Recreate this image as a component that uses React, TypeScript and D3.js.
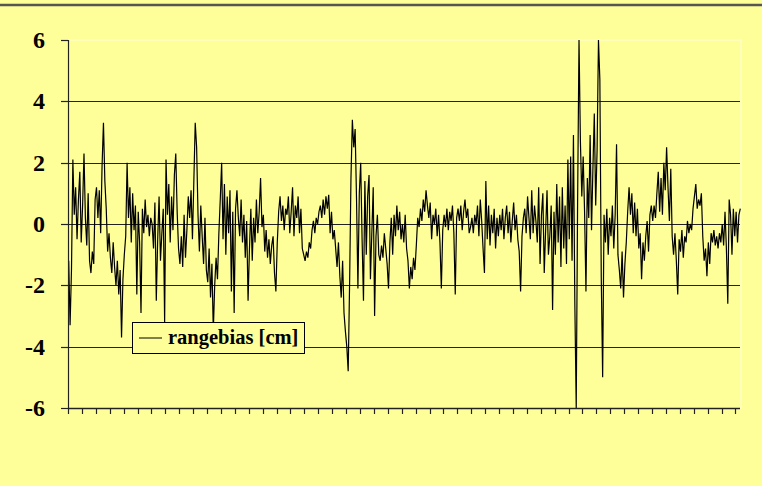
import React from "react";
import * as d3 from "d3";

const seriesName = "rangebias [cm]";
const yTickValues = [-6, -4, -2, 0, 2, 4, 6];
const gridValues = [-4, -2, 0, 2, 4];
const categoryTickStep = 10;

// rangebias values, read group by group (10 samples per category tick)
const rangebias: number[] = [
  -1.2, -3.3, -1.5, 2.1, 0.3, 1.2, -0.5, 0.8, 1.7, -0.6,
  0.6, 2.3, 0.2, -0.7, 1.0, -1.2, -1.6, -0.9, -1.3, 0.8,
  1.2, 0.2, 1.1, -0.3, 1.9, 3.3, 1.4, 0.5, -0.9, -0.3,
  -1.1, -1.6, -0.6, -1.4, -2.0, -1.2, -2.3, -1.5, -3.7, -1.8,
  -1.0, -0.4, 2.0, 0.2, 1.2, -0.6, 1.0, -0.2, 0.6, -2.3,
  0.4, -0.6, -2.9, 0.5, -0.3, 0.8, -0.1, 0.3, -0.4, 0.2,
  0.0, -0.8, 0.7, -2.5, -0.5, 0.9, -1.2, -0.3, 0.5, -3.2,
  2.1, 0.3, 1.3, -0.6, 0.9, -0.2, 1.6, 2.3, 0.4, -0.8,
  -1.3, -0.4, -1.4, 0.3, -1.1, -0.2, 0.9, 0.2, 1.1, -0.5,
  1.4, 3.3, 2.5, 0.3, -0.9, 0.6, -0.4, -1.3, 0.2, -1.5,
  -1.9, -0.8, -2.4, -1.3, -3.5, -2.0, -1.1, -1.8, -0.3, 0.8,
  2.0, -0.5, 1.3, -1.0, 0.9, -0.3, 1.1, -2.2, 0.4, -2.9,
  0.5, 1.1, 0.2, -0.4, 0.8, -0.6, 0.3, -1.1, 0.1, -2.5,
  -0.8, 0.5, -1.2, 0.2, -0.6, 0.8, -0.3, 0.4, 1.5, -0.1,
  0.3, -0.9, -0.2, -1.1, -0.5, -1.3, -0.7, -0.4, -1.6, -2.2,
  -0.6, 0.4, 0.9, 0.1, 0.6, -0.2, 0.5, 0.3, 0.9, -0.3,
  0.4, 1.2, -0.4, 0.6, 0.2, 0.9, -0.3, 0.5, -0.8, -1.0,
  -1.2, -0.9, -1.1, -0.6, -0.8, -0.2, 0.1, -0.3, 0.2, 0.0,
  0.4, 0.6, 0.2, 0.8, 0.3, 0.9, 0.5, 0.95, -0.3, 0.4,
  -0.5, -0.2, -0.8, -1.4, -0.6, -1.7, -2.4, -1.2, -2.9, -3.5,
  -4.0, -4.8, -2.0, 1.5, 3.4, 2.5, 3.1, 0.8, -2.1, 1.0,
  2.0, -0.5, -2.5, 1.4, -1.0, 0.9, 1.6, -1.8, -0.3, 1.2,
  -3.0, -0.4, 0.3, -1.0, -1.2, -0.7, -1.1, -0.3, -0.8, -1.3,
  -2.1, -0.6, 0.2, -1.0, 0.3, -0.4, 0.6, -0.2, 0.4, -0.5,
  0.0, -0.6, 0.3, -0.8, -1.2, -2.1, -1.4, -1.8, -1.1, -1.5,
  -0.7, 0.2, -0.1, 0.5, 0.1, 0.8, 0.4, 1.1, 0.6, 0.2,
  0.7, -0.5, 0.3, 0.0, 0.5, -0.4, 0.3, -0.6, -2.1, -0.2,
  0.3, -0.1, 0.5, -0.2, 0.4, 0.1, 0.6, -0.3, -2.3, 0.2,
  0.5, 0.1, 0.6, -0.2, 0.4, 0.8, 0.2, 0.5, -0.3, -0.1,
  0.2, -0.3, 0.3, 0.0, 0.6, -0.4, 0.8, 0.1, -0.8, -1.6,
  1.4, -0.5, 0.6, -0.7, 0.3, -0.3, 0.5, -0.8, 0.2, -0.4,
  0.3, -0.2, 0.5, -0.5, 0.2, 0.6, -0.3, 0.4, -0.6, 0.1,
  0.7, -0.2, 0.3, -0.5, -0.9, -2.2, -0.4, 0.2, 0.5, -0.3,
  0.9, 0.2, -0.5, 1.1, -0.3, 0.6, 0.1, -0.6, 1.2, -1.3,
  0.3, 1.0, -1.6, -0.2, 1.1, -1.0, -0.4, 0.6, -2.8, 0.4,
  -1.0, 1.3, -0.6, 0.9, -1.4, 1.2, -0.8, 0.6, -1.3, 2.1,
  -0.5, 2.2, -1.2, 2.9, -2.6, -6.0, 0.8, 6.0, 2.7, 0.9,
  2.2, 0.4, -2.2, 1.5, 0.2, 2.9, -0.2, 1.8, 3.6, 0.6,
  2.4, 6.0, 4.7, -1.7, -5.0, 0.3, -0.6, 0.5, -1.0, 0.2,
  -0.4, 0.6, -0.8, 0.3, 2.6, -1.0, -1.5, -2.1, -0.9, -2.4,
  -1.3, -0.6, 0.4, 1.2, 0.3, 1.0, -0.3, 0.7, -0.4, 0.5,
  -0.8, -0.3, -1.8, -0.6, -1.2, -0.4, 0.1, -0.9, 0.3, 0.6,
  0.1, 0.6, 0.2, 1.0, 1.7, 0.4, 1.5, 0.3, 2.0, 1.1,
  2.5, 1.2, 0.1, 1.8, -0.4, -1.0, -0.3, -1.2, -2.3, -0.5,
  -0.9, -0.2, -1.1, -0.4, -0.6, 0.1, -0.3, 0.0, -0.2, 0.5,
  0.9, 1.3, 0.5, 0.8, 0.6, 1.0, -0.4, -1.2, -0.8, -1.7,
  -0.6, -1.3, -0.3, -0.6, -0.2, -0.7, -0.4, -0.8, -0.3, -0.6,
  0.0, -0.7, 0.4, -0.8, -2.6, 0.8, 0.3, -1.0, 0.5, -0.4,
  0.4, -0.6, 0.3, 0.5,
];

const W = 762;
const H = 486;
const BG = "#FFFF99";
const plot = { left: 68, right: 741, top: 40, bottom: 408 };
const font = "Liberation Serif";

export default function App() {
  const n = rangebias.length;
  const x = d3.scaleLinear().domain([0, n]).range([plot.left, plot.right]);
  const y = d3.scaleLinear().domain([-6, 6]).range([plot.bottom, plot.top]);
  const line = d3
    .line<number>()
    .x((_, i) => x(i + 0.5))
    .y((d) => y(d));
  const xTicks = d3.range(0, n, categoryTickStep);

  const legend = { x: 132, y: 322, w: 172, h: 31 };

  return (
    <svg
      width={W}
      height={H}
      style={{ position: "fixed", left: 0, top: 0, display: "block" }}
    >
      <rect x={0} y={0} width={W} height={H} fill={BG} />
      <line x1={0} x2={W} y1={5} y2={5} stroke="#555" strokeWidth={2.5} />
      {/* plot area faint border */}
      <rect
        x={plot.left}
        y={plot.top}
        width={plot.right - plot.left}
        height={plot.bottom - plot.top}
        fill="none"
        stroke="#FFFFD8"
        strokeWidth={1}
      />
      {gridValues.map((v) => (
        <line
          key={"g" + v}
          x1={plot.left}
          x2={plot.right - 1}
          y1={Math.round(y(v)) + 0.5}
          y2={Math.round(y(v)) + 0.5}
          stroke="#222"
          strokeWidth={1.2}
        />
      ))}
      <path d={line(rangebias) || ""} fill="none" stroke="#000" strokeWidth={1.2} />
      {/* y axis */}
      <line x1={plot.left + 0.5} x2={plot.left + 0.5} y1={plot.top} y2={plot.bottom} stroke="#222" strokeWidth={1.2} />
      {yTickValues.map((v) => (
        <g key={"yt" + v}>
          <line
            x1={plot.left - 7}
            x2={plot.left}
            y1={Math.round(y(v)) + 0.5}
            y2={Math.round(y(v)) + 0.5}
            stroke="#222"
            strokeWidth={1.2}
          />
          <text
            x={45}
            y={y(v)}
            dy="0.34em"
            textAnchor="end"
            fontFamily={font}
            fontWeight="bold"
            fontSize={24}
            fill="#000"
          >
            {v}
          </text>
        </g>
      ))}
      {/* x axis */}
      <line x1={plot.left} x2={plot.right - 1} y1={plot.bottom + 0.5} y2={plot.bottom + 0.5} stroke="#222" strokeWidth={1.4} />
      {xTicks.map((t) => (
        <line
          key={"xt" + t}
          x1={Math.round(x(t)) + 0.5}
          x2={Math.round(x(t)) + 0.5}
          y1={plot.bottom}
          y2={plot.bottom + 6}
          stroke="#222"
          strokeWidth={1.2}
        />
      ))}
      {/* legend */}
      <rect
        x={legend.x + 0.5}
        y={legend.y + 0.5}
        width={legend.w}
        height={legend.h}
        fill={BG}
        stroke="#000"
        strokeWidth={1}
      />
      <line x1={legend.x + 7} x2={legend.x + 30} y1={legend.y + 16} y2={legend.y + 16} stroke="#000" strokeWidth={1} />
      <text
        x={legend.x + 36}
        y={legend.y + 22}
        fontFamily={font}
        fontWeight="bold"
        fontSize={20.5}
        fill="#000"
      >
        {seriesName}
      </text>
    </svg>
  );
}
